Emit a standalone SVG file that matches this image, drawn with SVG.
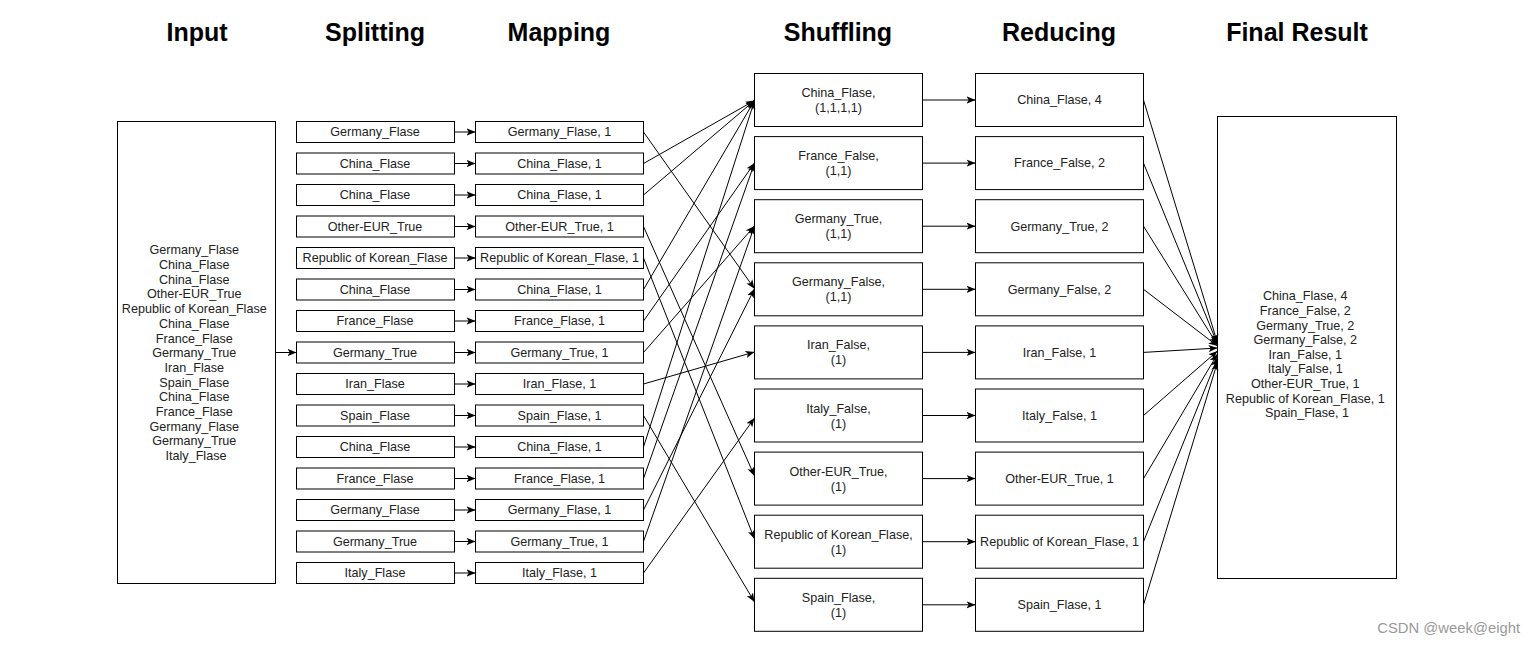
<svg xmlns="http://www.w3.org/2000/svg" width="1536" height="646" viewBox="0 0 1536 646">
<style>
.title{font-family:"Liberation Sans",Arial,sans-serif;font-size:25px;font-weight:bold;fill:#000;text-anchor:middle}
.t{font-family:"Liberation Sans",Arial,sans-serif;font-size:12.6px;fill:#222;text-anchor:middle}
.box{fill:#fff;stroke:#000;stroke-width:1}
.e{stroke:#000;stroke-width:1;fill:none;marker-end:url(#arr)}
.wm{font-family:"Liberation Sans",Arial,sans-serif;font-size:14.8px;fill:#999;text-anchor:end}
</style>
<defs>
<marker id="arr" viewBox="0 0 10 8" refX="10" refY="4" markerWidth="9" markerHeight="7.5" orient="auto" markerUnits="userSpaceOnUse">
<path d="M0,0 L10,4 L0,8 L2.5,4 z" fill="#000"/>
</marker>
</defs>
<rect width="1536" height="646" fill="#fff"/>
<g id="titles">
<text class="title" x="197" y="41">Input</text>
<text class="title" x="375" y="41">Splitting</text>
<text class="title" x="559" y="41">Mapping</text>
<text class="title" x="838" y="41">Shuffling</text>
<text class="title" x="1059" y="41">Reducing</text>
<text class="title" x="1297" y="41">Final Result</text>
</g>
<g id="input">
<rect class="box" x="117.5" y="121.5" width="158" height="462"/>
<text class="t">
<tspan x="196" y="254.3">Germany_Flase</tspan>
<tspan x="196" y="269">China_Flase</tspan>
<tspan x="196" y="283.7">China_Flase</tspan>
<tspan x="196" y="298.4">Other-EUR_True</tspan>
<tspan x="196" y="313.1">Republic of Korean_Flase</tspan>
<tspan x="196" y="327.8">China_Flase</tspan>
<tspan x="196" y="342.5">France_Flase</tspan>
<tspan x="196" y="357.2">Germany_True</tspan>
<tspan x="196" y="371.9">Iran_Flase</tspan>
<tspan x="196" y="386.6">Spain_Flase</tspan>
<tspan x="196" y="401.3">China_Flase</tspan>
<tspan x="196" y="416">France_Flase</tspan>
<tspan x="196" y="430.7">Germany_Flase</tspan>
<tspan x="196" y="445.4">Germany_True</tspan>
<tspan x="196" y="460.1">Italy_Flase</tspan>
</text>
</g>
<g id="splitting">
<g id="s0"><rect class="box" x="296.5" y="121.5" width="158" height="21"/><text class="t" x="375" y="136.3">Germany_Flase</text></g>
<g id="s1"><rect class="box" x="296.5" y="153" width="158" height="21"/><text class="t" x="375" y="167.8">China_Flase</text></g>
<g id="s2"><rect class="box" x="296.5" y="184.5" width="158" height="21"/><text class="t" x="375" y="199.3">China_Flase</text></g>
<g id="s3"><rect class="box" x="296.5" y="216" width="158" height="21"/><text class="t" x="375" y="230.8">Other-EUR_True</text></g>
<g id="s4"><rect class="box" x="296.5" y="247.5" width="158" height="21"/><text class="t" x="375" y="262.3">Republic of Korean_Flase</text></g>
<g id="s5"><rect class="box" x="296.5" y="279" width="158" height="21"/><text class="t" x="375" y="293.8">China_Flase</text></g>
<g id="s6"><rect class="box" x="296.5" y="310.5" width="158" height="21"/><text class="t" x="375" y="325.3">France_Flase</text></g>
<g id="s7"><rect class="box" x="296.5" y="342" width="158" height="21"/><text class="t" x="375" y="356.8">Germany_True</text></g>
<g id="s8"><rect class="box" x="296.5" y="373.5" width="158" height="21"/><text class="t" x="375" y="388.3">Iran_Flase</text></g>
<g id="s9"><rect class="box" x="296.5" y="405" width="158" height="21"/><text class="t" x="375" y="419.8">Spain_Flase</text></g>
<g id="s10"><rect class="box" x="296.5" y="436.5" width="158" height="21"/><text class="t" x="375" y="451.3">China_Flase</text></g>
<g id="s11"><rect class="box" x="296.5" y="468" width="158" height="21"/><text class="t" x="375" y="482.8">France_Flase</text></g>
<g id="s12"><rect class="box" x="296.5" y="499.5" width="158" height="21"/><text class="t" x="375" y="514.3">Germany_Flase</text></g>
<g id="s13"><rect class="box" x="296.5" y="531" width="158" height="21"/><text class="t" x="375" y="545.8">Germany_True</text></g>
<g id="s14"><rect class="box" x="296.5" y="562.5" width="158" height="21"/><text class="t" x="375" y="577.3">Italy_Flase</text></g>
</g>
<g id="mapping">
<g id="m0"><rect class="box" x="475.5" y="121.5" width="168" height="21"/><text class="t" x="559.5" y="136.3">Germany_Flase, 1</text></g>
<g id="m1"><rect class="box" x="475.5" y="153" width="168" height="21"/><text class="t" x="559.5" y="167.8">China_Flase, 1</text></g>
<g id="m2"><rect class="box" x="475.5" y="184.5" width="168" height="21"/><text class="t" x="559.5" y="199.3">China_Flase, 1</text></g>
<g id="m3"><rect class="box" x="475.5" y="216" width="168" height="21"/><text class="t" x="559.5" y="230.8">Other-EUR_True, 1</text></g>
<g id="m4"><rect class="box" x="475.5" y="247.5" width="168" height="21"/><text class="t" x="559.5" y="262.3">Republic of Korean_Flase, 1</text></g>
<g id="m5"><rect class="box" x="475.5" y="279" width="168" height="21"/><text class="t" x="559.5" y="293.8">China_Flase, 1</text></g>
<g id="m6"><rect class="box" x="475.5" y="310.5" width="168" height="21"/><text class="t" x="559.5" y="325.3">France_Flase, 1</text></g>
<g id="m7"><rect class="box" x="475.5" y="342" width="168" height="21"/><text class="t" x="559.5" y="356.8">Germany_True, 1</text></g>
<g id="m8"><rect class="box" x="475.5" y="373.5" width="168" height="21"/><text class="t" x="559.5" y="388.3">Iran_Flase, 1</text></g>
<g id="m9"><rect class="box" x="475.5" y="405" width="168" height="21"/><text class="t" x="559.5" y="419.8">Spain_Flase, 1</text></g>
<g id="m10"><rect class="box" x="475.5" y="436.5" width="168" height="21"/><text class="t" x="559.5" y="451.3">China_Flase, 1</text></g>
<g id="m11"><rect class="box" x="475.5" y="468" width="168" height="21"/><text class="t" x="559.5" y="482.8">France_Flase, 1</text></g>
<g id="m12"><rect class="box" x="475.5" y="499.5" width="168" height="21"/><text class="t" x="559.5" y="514.3">Germany_Flase, 1</text></g>
<g id="m13"><rect class="box" x="475.5" y="531" width="168" height="21"/><text class="t" x="559.5" y="545.8">Germany_True, 1</text></g>
<g id="m14"><rect class="box" x="475.5" y="562.5" width="168" height="21"/><text class="t" x="559.5" y="577.3">Italy_Flase, 1</text></g>
</g>
<g id="shuffling">
<g id="sh0"><rect class="box" x="754.5" y="73.5" width="168" height="53"/><text class="t"><tspan x="838.5" y="97">China_Flase,</tspan><tspan x="838.5" y="112">(1,1,1,1)</tspan></text></g>
<g id="sh1"><rect class="box" x="754.5" y="136.6" width="168" height="53"/><text class="t"><tspan x="838.5" y="160.1">France_False,</tspan><tspan x="838.5" y="175.1">(1,1)</tspan></text></g>
<g id="sh2"><rect class="box" x="754.5" y="199.7" width="168" height="53"/><text class="t"><tspan x="838.5" y="223.2">Germany_True,</tspan><tspan x="838.5" y="238.2">(1,1)</tspan></text></g>
<g id="sh3"><rect class="box" x="754.5" y="262.8" width="168" height="53"/><text class="t"><tspan x="838.5" y="286.3">Germany_False,</tspan><tspan x="838.5" y="301.3">(1,1)</tspan></text></g>
<g id="sh4"><rect class="box" x="754.5" y="325.9" width="168" height="53"/><text class="t"><tspan x="838.5" y="349.4">Iran_False,</tspan><tspan x="838.5" y="364.4">(1)</tspan></text></g>
<g id="sh5"><rect class="box" x="754.5" y="389" width="168" height="53"/><text class="t"><tspan x="838.5" y="412.5">Italy_False,</tspan><tspan x="838.5" y="427.5">(1)</tspan></text></g>
<g id="sh6"><rect class="box" x="754.5" y="452.1" width="168" height="53"/><text class="t"><tspan x="838.5" y="475.6">Other-EUR_True,</tspan><tspan x="838.5" y="490.6">(1)</tspan></text></g>
<g id="sh7"><rect class="box" x="754.5" y="515.2" width="168" height="53"/><text class="t"><tspan x="838.5" y="538.7">Republic of Korean_Flase,</tspan><tspan x="838.5" y="553.7">(1)</tspan></text></g>
<g id="sh8"><rect class="box" x="754.5" y="578.3" width="168" height="53"/><text class="t"><tspan x="838.5" y="601.8">Spain_Flase,</tspan><tspan x="838.5" y="616.8">(1)</tspan></text></g>
</g>
<g id="reducing">
<g id="r0"><rect class="box" x="975.5" y="73.5" width="168" height="53"/><text class="t" x="1059.5" y="104.3">China_Flase, 4</text></g>
<g id="r1"><rect class="box" x="975.5" y="136.6" width="168" height="53"/><text class="t" x="1059.5" y="167.4">France_False, 2</text></g>
<g id="r2"><rect class="box" x="975.5" y="199.7" width="168" height="53"/><text class="t" x="1059.5" y="230.5">Germany_True, 2</text></g>
<g id="r3"><rect class="box" x="975.5" y="262.8" width="168" height="53"/><text class="t" x="1059.5" y="293.6">Germany_False, 2</text></g>
<g id="r4"><rect class="box" x="975.5" y="325.9" width="168" height="53"/><text class="t" x="1059.5" y="356.7">Iran_False, 1</text></g>
<g id="r5"><rect class="box" x="975.5" y="389" width="168" height="53"/><text class="t" x="1059.5" y="419.8">Italy_False, 1</text></g>
<g id="r6"><rect class="box" x="975.5" y="452.1" width="168" height="53"/><text class="t" x="1059.5" y="482.9">Other-EUR_True, 1</text></g>
<g id="r7"><rect class="box" x="975.5" y="515.2" width="168" height="53"/><text class="t" x="1059.5" y="546">Republic of Korean_Flase, 1</text></g>
<g id="r8"><rect class="box" x="975.5" y="578.3" width="168" height="53"/><text class="t" x="1059.5" y="609.1">Spain_Flase, 1</text></g>
</g>
<g id="final">
<rect class="box" x="1217.5" y="116.5" width="179" height="462"/>
<text class="t">
<tspan x="1307" y="300.3">China_Flase, 4</tspan>
<tspan x="1307" y="314.9">France_False, 2</tspan>
<tspan x="1307" y="329.5">Germany_True, 2</tspan>
<tspan x="1307" y="344.1">Germany_False, 2</tspan>
<tspan x="1307" y="358.7">Iran_False, 1</tspan>
<tspan x="1307" y="373.3">Italy_False, 1</tspan>
<tspan x="1307" y="387.9">Other-EUR_True, 1</tspan>
<tspan x="1307" y="402.5">Republic of Korean_Flase, 1</tspan>
<tspan x="1307" y="417.1">Spain_Flase, 1</tspan>
</text>
</g>
<g id="connectors">
<line class="e" x1="275.5" y1="352.5" x2="296.5" y2="352.5"/>
<line class="e" x1="454.5" y1="132" x2="475.5" y2="132"/>
<line class="e" x1="454.5" y1="163.5" x2="475.5" y2="163.5"/>
<line class="e" x1="454.5" y1="195" x2="475.5" y2="195"/>
<line class="e" x1="454.5" y1="226.5" x2="475.5" y2="226.5"/>
<line class="e" x1="454.5" y1="258" x2="475.5" y2="258"/>
<line class="e" x1="454.5" y1="289.5" x2="475.5" y2="289.5"/>
<line class="e" x1="454.5" y1="321" x2="475.5" y2="321"/>
<line class="e" x1="454.5" y1="352.5" x2="475.5" y2="352.5"/>
<line class="e" x1="454.5" y1="384" x2="475.5" y2="384"/>
<line class="e" x1="454.5" y1="415.5" x2="475.5" y2="415.5"/>
<line class="e" x1="454.5" y1="447" x2="475.5" y2="447"/>
<line class="e" x1="454.5" y1="478.5" x2="475.5" y2="478.5"/>
<line class="e" x1="454.5" y1="510" x2="475.5" y2="510"/>
<line class="e" x1="454.5" y1="541.5" x2="475.5" y2="541.5"/>
<line class="e" x1="454.5" y1="573" x2="475.5" y2="573"/>
<line class="e" x1="643.5" y1="132" x2="754.5" y2="288.8"/>
<line class="e" x1="643.5" y1="163.5" x2="754.5" y2="100.5"/>
<line class="e" x1="643.5" y1="195" x2="754.5" y2="100.5"/>
<line class="e" x1="643.5" y1="226.5" x2="754.5" y2="476"/>
<line class="e" x1="643.5" y1="258" x2="754.5" y2="539"/>
<line class="e" x1="643.5" y1="289.5" x2="754.5" y2="100.5"/>
<line class="e" x1="643.5" y1="321" x2="754.5" y2="163"/>
<line class="e" x1="643.5" y1="352.5" x2="754.5" y2="226"/>
<line class="e" x1="643.5" y1="384" x2="754.5" y2="352"/>
<line class="e" x1="643.5" y1="415.5" x2="754.5" y2="602"/>
<line class="e" x1="643.5" y1="447" x2="754.5" y2="100.5"/>
<line class="e" x1="643.5" y1="478.5" x2="754.5" y2="163"/>
<line class="e" x1="643.5" y1="510" x2="754.5" y2="288.8"/>
<line class="e" x1="643.5" y1="541.5" x2="754.5" y2="226"/>
<line class="e" x1="643.5" y1="573" x2="754.5" y2="418"/>
<line class="e" x1="922.5" y1="100" x2="975.5" y2="100"/>
<line class="e" x1="922.5" y1="163.1" x2="975.5" y2="163.1"/>
<line class="e" x1="922.5" y1="226.2" x2="975.5" y2="226.2"/>
<line class="e" x1="922.5" y1="289.3" x2="975.5" y2="289.3"/>
<line class="e" x1="922.5" y1="352.4" x2="975.5" y2="352.4"/>
<line class="e" x1="922.5" y1="415.5" x2="975.5" y2="415.5"/>
<line class="e" x1="922.5" y1="478.6" x2="975.5" y2="478.6"/>
<line class="e" x1="922.5" y1="541.7" x2="975.5" y2="541.7"/>
<line class="e" x1="922.5" y1="604.8" x2="975.5" y2="604.8"/>
<line class="e" x1="1143.5" y1="100" x2="1217.5" y2="343"/>
<line class="e" x1="1143.5" y1="163.1" x2="1217.5" y2="344"/>
<line class="e" x1="1143.5" y1="226.2" x2="1217.5" y2="345"/>
<line class="e" x1="1143.5" y1="289.3" x2="1217.5" y2="346"/>
<line class="e" x1="1143.5" y1="352.4" x2="1217.5" y2="348"/>
<line class="e" x1="1143.5" y1="415.5" x2="1217.5" y2="351"/>
<line class="e" x1="1143.5" y1="478.6" x2="1217.5" y2="354"/>
<line class="e" x1="1143.5" y1="541.7" x2="1217.5" y2="358"/>
<line class="e" x1="1143.5" y1="604.8" x2="1217.5" y2="362"/>
</g>
<text class="wm" x="1520" y="633">CSDN @week@eight</text>
</svg>
